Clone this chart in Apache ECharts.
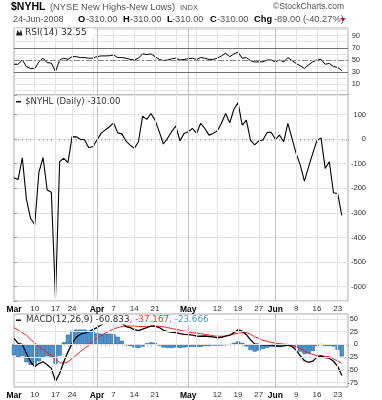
<!DOCTYPE html>
<html><head><meta charset="utf-8">
<script src="https://cdn.jsdelivr.net/npm/echarts@6/dist/echarts.min.js"></script>
<style>html,body{margin:0;padding:0;background:#fff}#c{width:382px;height:400px}</style>
</head><body><div id="c"></div>
<script>
// ---- data ----
const dates = [
 '2008-03-03','2008-03-04','2008-03-05','2008-03-06','2008-03-07','2008-03-10','2008-03-11','2008-03-12','2008-03-13','2008-03-14',
 '2008-03-17','2008-03-18','2008-03-19','2008-03-20','2008-03-24','2008-03-25','2008-03-26','2008-03-27','2008-03-28','2008-03-31',
 '2008-04-01','2008-04-02','2008-04-03','2008-04-04','2008-04-07','2008-04-08','2008-04-09','2008-04-10','2008-04-11','2008-04-14',
 '2008-04-15','2008-04-16','2008-04-17','2008-04-18','2008-04-21','2008-04-22','2008-04-23','2008-04-24','2008-04-25','2008-04-28',
 '2008-04-29','2008-04-30','2008-05-01','2008-05-02','2008-05-05','2008-05-06','2008-05-07','2008-05-08','2008-05-09','2008-05-12',
 '2008-05-13','2008-05-14','2008-05-15','2008-05-16','2008-05-19','2008-05-20','2008-05-21','2008-05-22','2008-05-23','2008-05-27',
 '2008-05-28','2008-05-29','2008-05-30','2008-06-02','2008-06-03','2008-06-04','2008-06-05','2008-06-06','2008-06-09','2008-06-10',
 '2008-06-11','2008-06-12','2008-06-13','2008-06-16','2008-06-17','2008-06-18','2008-06-19','2008-06-20','2008-06-23','2008-06-24'
];
const nyhl = [
 -157,-164,-76,-245,-322,-348,-135,-75,-207,-216,
 -645,-92,-78,-96,10,9,-1,-3,-34,-31,
 -4,23,37,50,66,25,21,-8,-25,-38,
 -11,93,80,104,77,30,-20,3,30,53,
 -7,23,30,43,23,64,43,16,23,34,
 64,104,66,121,148,57,77,-4,-24,-7,
 -4,27,27,-1,16,-11,64,3,-58,-106,
 -171,-113,-58,-7,5,-119,-92,-218,-221,-310
];
const rsi = [
 43,43,50,39,36,36,47,53,45.5,45,
 31,50,53,51,55.5,55.5,54,54,53,53,
 55.5,56.7,56.7,57,58.3,54,54,53,51,50,
 53,60,59,60,55.5,51,49,50,52,53,
 50,51,52,53,51,54,53,51,51,53,
 56.7,61,55.5,60,62.8,53,54,49,46.7,47,
 47,50,50,47,50,47,54,49,44.4,40.6,
 36,42,47,50,51,43,44.4,39,38,32.55
];
const macd = [
 11.8,2,0,-17.7,-34,-44,-37.6,-34,-40,-47,
 -72,-57,-34,-14.6,2,13.8,20,22,24.5,29,
 33,38,43,47,50,48,42,35,33,29,
 27,30,33,36,36,33,28,25,24,23,
 21,19.5,19,18,16.5,16,16.5,15.5,14.6,13,
 14,16,18,23,28.5,26,19,9,1,0,
 -1,-1,-1.5,-2.5,-4,-3,-1.5,-4,-11,-22,
 -32,-35,-33,-25,-22.5,-26,-27,-33,-43,-60.833
];
const signal = [
 33,28,23,18,10,3,-4,-10,-16,-21,
 -28,-36,-37,-34,-28,-21,-14,-8,-2,6,
 12,17,22,26,30,33,35,36,36,36,
 35,35,35,35.5,36,35.5,34.5,33,31,29.5,
 28,26,24.5,23,22,21,19.5,18.5,17,16,
 16,16.5,18,20,22,23,23,20,15,12,
 8,6,4,2.5,1.5,0.5,0,-2,-5,-8,
 -13,-17,-20,-22,-22.5,-23.5,-24,-29,-32,-37.167
];
const hist = [
 -21,-25,-23,-35,-40,-40,-33,-25,-23,-25,
 -38,-22,4,19,27,29,29,29,27,24,
 22,21,21,21,20,15,7,-1,-3,-6,
 -7,-4,2,4,3,-2,-6,-7,-7,-6,
 -7,-6,-5,-5,-5,-5,-3,-3,-2,-3,
 -2,-1,0,3,6,3,-4,-11,-14,-12,
 -9,-7,-5,-5,-5,-3,-1,-2,-6,-14,
 -19,-18,-13,-3,0,-3,-3,-4,-11,-23.666
];
const tickDates = ['2008-03-03','2008-03-10','2008-03-17','2008-03-24','2008-04-01','2008-04-07','2008-04-14','2008-04-21',
 '2008-05-01','2008-05-12','2008-05-19','2008-05-27','2008-06-02','2008-06-09','2008-06-16','2008-06-23'];
const tickLabels = ['Mar','10','17','24','Apr','7','14','21','May','12','19','27','Jun','9','16','23'];
const weekDates = ['2008-03-10','2008-03-17','2008-03-24','2008-03-31','2008-04-07','2008-04-14','2008-04-21','2008-04-28',
 '2008-05-05','2008-05-12','2008-05-19','2008-05-27','2008-06-09','2008-06-16','2008-06-23'];
const monthDates = ['2008-04-01','2008-05-01','2008-06-02'];
const rsiLabels = [90,70,50,30,10];
const mainLabels = [100,0,-100,-200,-300,-400,-500,-600];
const macdLabels = [50,25,0,-25,-50,-75];

// ---- chart ----
const idx = d => dates.indexOf(d);
const labelIdx = tickDates.map(idx);
const pairs = a => a.map((v,i)=>[i,v]);
const AF = '"Liberation Sans", Arial, sans-serif';
const LF = '"DejaVu Sans", Verdana, sans-serif';
const GRID_C = '#e3e3e3', MONTH_C = '#c2c2c2', BORDER_C = '#a9a9a9';
const vLines = [
  ...weekDates.map(d => ({xAxis: idx(d), lineStyle:{color:GRID_C,width:1,type:'solid'}})),
  ...monthDates.map(d => ({xAxis: idx(d), lineStyle:{color:MONTH_C,width:1,type:'solid'}}))
];
function ml(extra){ return {silent:true, symbol:['none','none'], label:{show:false}, animation:false, data: vLines.concat(extra||[])}; }

const X0 = 14, W = 334;
const grids = [
  {left:X0, width:W, top:28, height:67},
  {left:X0, width:W, top:95, height:206},
  {left:X0, width:W, top:314, height:73}
].map(g => Object.assign(g, {show:true, borderColor:BORDER_C, borderWidth:1, backgroundColor:'#fff', containLabel:false}));

function xAx(gi, show){
  return {type:'value', gridIndex:gi, min:0, max:80.5, interval:1,
    axisLine:{show:false}, splitLine:{show:false},
    axisTick:{show:show, length:2, lineStyle:{color:'#bbb'}},
    axisLabel:{show:show, margin:4, fontFamily:AF, fontSize:8, color:'#333',
      formatter: v => { const k = labelIdx.indexOf(v); if (k < 0) return ''; const t = tickLabels[k];
        return isNaN(+t) ? '{m|'+t+'}' : '{d|'+t+'}'; },
      rich:{m:{fontFamily:AF, fontWeight:'bold', fontSize:8.5, color:'#000'}, d:{fontFamily:AF, fontSize:8, color:'#333'}}}
  };
}
const yLab = (m, list) => ({show:true, align:'right', margin:m, fontFamily:AF, fontSize:7.5, color:'#333',
  formatter: v => list.includes(Math.round(v*1000)/1000) ? String(v) : ''});

const option = {
  animation:false,
  grid: grids,
  xAxis: [xAx(0,false), xAx(1,true), xAx(2,true)],
  yAxis: [
    {type:'value', gridIndex:0, position:'right', min:-7.4, max:102.5, splitNumber:11,
      axisLine:{show:false}, axisTick:{show:false}, splitLine:{show:true, lineStyle:{color:GRID_C}},
      axisLabel: yLab(12, rsiLabels)},
    {type:'value', gridIndex:1, position:'right', min:-658, max:179, splitNumber:8,
      axisLine:{show:false}, axisTick:{show:true, length:3, lineStyle:{color:'#999'}}, splitLine:{show:true, lineStyle:{color:GRID_C}},
      axisLabel: yLab(18, mainLabels)},
    {type:'value', gridIndex:2, position:'right', min:-83.5, max:59.6,
      axisLine:{show:false}, axisTick:{show:true, length:3, customValues:macdLabels, lineStyle:{color:'#999'}}, splitLine:{show:false},
      axisLabel: Object.assign(yLab(10, macdLabels), {customValues: macdLabels})}
  ],
  series: [
    {type:'line', xAxisIndex:0, yAxisIndex:0, data:[], z:1,
      markLine: ml([
        {yAxis:70, lineStyle:{color:'#707070', width:1, type:'solid'}},
        {yAxis:30, lineStyle:{color:'#707070', width:1, type:'solid'}},
        {yAxis:50, lineStyle:{color:'#8a8a8a', width:1, type:[6,2,2,2]}}
      ])},
    {type:'line', name:'RSI', xAxisIndex:0, yAxisIndex:0, data:pairs(rsi), showSymbol:false, symbol:'none',
      lineStyle:{color:'#000', width:1}, z:3},
    {type:'line', xAxisIndex:1, yAxisIndex:1, data:[], z:1, markLine: ml()},
    {type:'line', name:'NYHL', xAxisIndex:1, yAxisIndex:1, data:pairs(nyhl), showSymbol:false, symbol:'none',
      lineStyle:{color:'#000', width:1.1}, z:3},
    {type:'line', xAxisIndex:2, yAxisIndex:2, data:[], z:1,
      markLine: ml(macdLabels.map(v => ({yAxis:v, lineStyle:{color:GRID_C, width:1, type:'solid'}})))},
    {type:'bar', name:'Hist', xAxisIndex:2, yAxisIndex:2, data:pairs(hist), barWidth:'100%',
      itemStyle:{color:'#4a95cf', borderColor:'#23629c', borderWidth:0.6}, z:2},
    {type:'line', name:'Signal', xAxisIndex:2, yAxisIndex:2, data:pairs(signal), showSymbol:false, symbol:'none',
      lineStyle:{color:'#ff1a1a', width:1}, z:3},
    {type:'line', name:'MACD', xAxisIndex:2, yAxisIndex:2, data:pairs(macd), showSymbol:false, symbol:'none',
      lineStyle:{color:'#000', width:1.3}, z:4}
  ],
  graphic: [
    {type:'text', x:11, y:7, z:100, style:{text:'$NYHL', font:'bold 10.5px '+AF, fill:'#000', verticalAlign:'middle'}},
    {type:'text', x:50, y:7, z:100, style:{text:'(NYSE New Highs-New Lows)', font:'9.3px '+AF, fill:'#555', verticalAlign:'middle'}},
    {type:'text', x:180, y:7.5, z:100, style:{text:'INDX', font:'7.5px '+AF, fill:'#555', verticalAlign:'middle'}},
    {type:'text', x:344, y:7, z:100, style:{text:'©StockCharts.com', font:'8.5px '+AF, fill:'#555', align:'right', verticalAlign:'middle'}},
    {type:'text', x:13, y:19.5, z:100, style:{text:'24-Jun-2008', font:'9px '+AF, fill:'#555', verticalAlign:'middle'}},
    {type:'text', x:78, y:19.5, z:100, style:{text:'O', font:'bold 9.3px '+AF, fill:'#000', verticalAlign:'middle'}},
    {type:'text', x:86, y:19.5, z:100, style:{text:'-310.00', font:'9.3px '+AF, fill:'#555', verticalAlign:'middle'}},
    {type:'text', x:123, y:19.5, z:100, style:{text:'H', font:'bold 9.3px '+AF, fill:'#000', verticalAlign:'middle'}},
    {type:'text', x:130, y:19.5, z:100, style:{text:'-310.00', font:'9.3px '+AF, fill:'#555', verticalAlign:'middle'}},
    {type:'text', x:167, y:19.5, z:100, style:{text:'L', font:'bold 9.3px '+AF, fill:'#000', verticalAlign:'middle'}},
    {type:'text', x:172, y:19.5, z:100, style:{text:'-310.00', font:'9.3px '+AF, fill:'#555', verticalAlign:'middle'}},
    {type:'text', x:210, y:19.5, z:100, style:{text:'C', font:'bold 9.3px '+AF, fill:'#000', verticalAlign:'middle'}},
    {type:'text', x:217, y:19.5, z:100, style:{text:'-310.00', font:'9.3px '+AF, fill:'#555', verticalAlign:'middle'}},
    {type:'text', x:254, y:19.5, z:100, style:{text:'Chg', font:'bold 9.3px '+AF, fill:'#000', verticalAlign:'middle'}},
    {type:'text', x:274, y:19.5, z:100, style:{text:'-89.00 (-40.27%)', font:'9.3px '+AF, fill:'#555', verticalAlign:'middle'}},
    {type:'polygon', z:100, shape:{points:[[340.5,18],[345.5,18],[343,21.5]]}, style:{fill:'#b0102a'}},
    // RSI legend
    {type:'rect', z:100, shape:{x:15, y:28.6, width:79, height:8.4}, style:{fill:'#fff'}},
    {type:'polygon', z:101, shape:{points:[[16,35.5],[17.5,30],[19.5,33],[21,29.5],[22.5,35.5]]}, style:{fill:'#222'}},
    {type:'text', x:25, y:32.6, z:101, style:{text:'RSI(14) 32.55', font:'9px '+LF, fill:'#333', verticalAlign:'middle'}},
    // main legend
    {type:'rect', z:100, shape:{x:15, y:96, width:114, height:10}, style:{fill:'#fff'}},
    {type:'rect', z:101, shape:{x:16, y:101, width:5, height:1.4}, style:{fill:'#000'}},
    {type:'text', x:25, y:101.7, z:101, style:{text:'$NYHL (Daily) -310.00', font:'8.6px '+LF, fill:'#333', verticalAlign:'middle'}},
    // macd legend
    {type:'rect', z:100, shape:{x:15, y:315, width:209, height:9.5}, style:{fill:'#fff'}},
    {type:'rect', z:101, shape:{x:16, y:319.5, width:5, height:1.4}, style:{fill:'#000'}},
    {type:'text', x:26, y:320, z:101, style:{text:'{k|MACD(12,26,9) -60.833}{r|, -37.167}{b|, -23.666}', verticalAlign:'middle',
      rich:{k:{font:'8.8px '+LF, fill:'#333'}, r:{font:'8.8px '+LF, fill:'#ff3030'}, b:{font:'8.8px '+LF, fill:'#4a95cf'}}}}
  ]
};
const chart = echarts.init(document.getElementById('c'), null, {renderer:'canvas', width:382, height:400});
chart.setOption(option);
</script>
</body></html>
